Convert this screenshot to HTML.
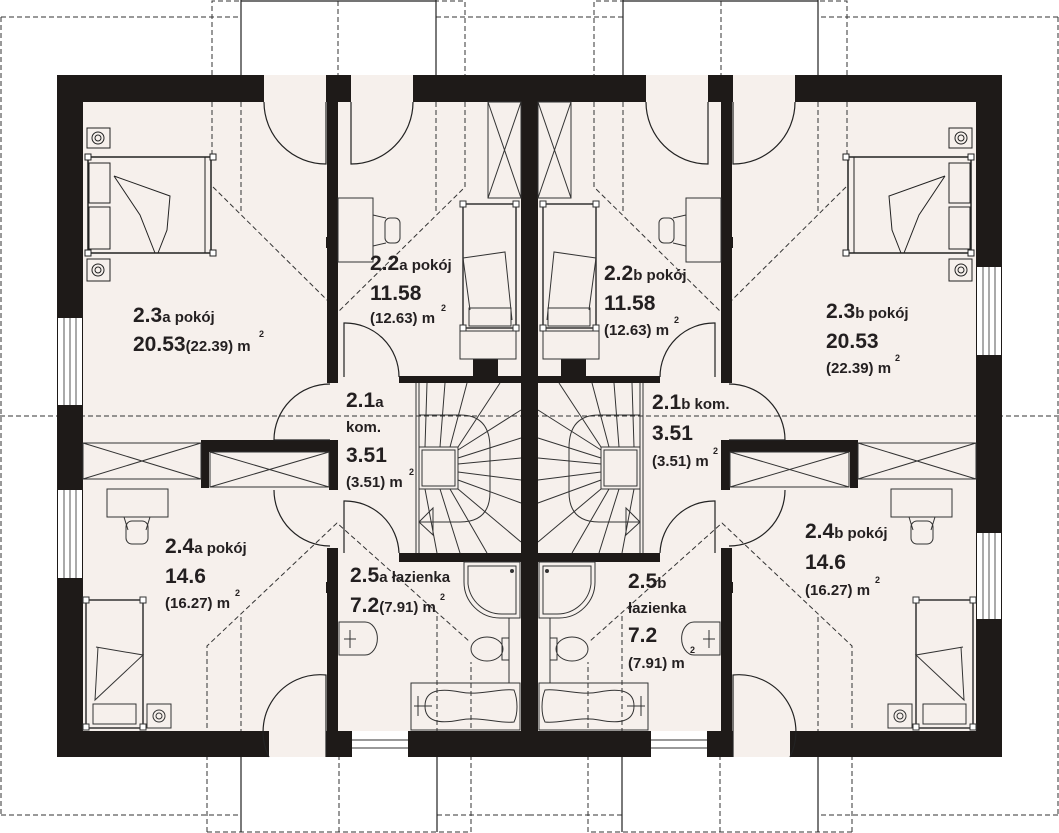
<!DOCTYPE html>
<html><head><meta charset="utf-8"><style>
html,body{margin:0;padding:0;background:#fff;}
svg{display:block;}
text{font-family:"Liberation Sans",sans-serif;font-weight:bold;fill:#231f20;}
.b{font-size:21px;}
.s{font-size:15px;}
.sup{font-size:9px;}
</style></head><body>
<svg width="1059" height="833" viewBox="0 0 1059 833" xmlns="http://www.w3.org/2000/svg">
<defs>
<g id="half">
  <rect x="83" y="102" width="447" height="629" fill="#f6f0ec"/>
  <rect x="264" y="75" width="62" height="27" fill="#f6f0ec"/>
  <rect x="351" y="75" width="62" height="27" fill="#f6f0ec"/>
  <rect x="269" y="731" width="57" height="26" fill="#f6f0ec"/>
  <g fill="none" stroke="#333" stroke-width="1" stroke-dasharray="5,3">
    <path d="M1,17 V815 M1,17 H241 M436,17 H530 M1,815 H241 M437,815 H530"/>
    <path d="M212,75 V1 H465 V75 M338,1 V75"/>
    <path d="M212,102 V157 M241,102 V213 M436,102 V213 M465,102 V187 L338,312 M213,187 L329,302"/>
    <path d="M207,832 V646 L337,523 L470,642 M207,832 H471 V662 M241,617 V731 M437,616 V731 M339,731 V832"/>
    <path d="M0,416 H530"/>
  </g>
  <g fill="none" stroke="#222" stroke-width="1.2">
    <path d="M241,0 V75 M436,0 V75 M241,1 H436"/>
    <path d="M241,757 V832 M437,757 V832"/>
  </g>
  <g fill="#1e1a18">
    <rect x="57" y="75" width="207" height="27"/>
    <rect x="326" y="75" width="25" height="27"/>
    <rect x="413" y="75" width="117" height="27"/>
    <rect x="57" y="75" width="26" height="682"/>
    <rect x="57" y="731" width="212" height="26"/>
    <rect x="326" y="731" width="26" height="26"/>
    <rect x="408" y="731" width="122" height="26"/>
    <rect x="521" y="75" width="9" height="682"/>
    <rect x="327" y="102" width="11" height="281"/>
    <rect x="326" y="237" width="4" height="11"/>
    <rect x="327" y="548" width="11" height="183"/>
    <rect x="326" y="582" width="4" height="11"/>
    <rect x="399" y="376" width="122" height="7"/>
    <rect x="473" y="359" width="25" height="18"/>
    <rect x="201" y="440" width="137" height="12"/>
    <rect x="329" y="440" width="9" height="50"/>
    <rect x="201" y="443" width="8" height="45"/>
    <rect x="399" y="553" width="122" height="9"/>
  </g>
  <rect x="352" y="731" width="56" height="26" fill="#fff"/>
  <path d="M352,740 H408 M352,748 H408" stroke="#333" stroke-width="1"/>
  <g fill="none" stroke="#222" stroke-width="1.2">
    <path d="M264,102 A62,62 0 0 0 326,164 V102"/>
    <path d="M413,102 A62,62 0 0 1 351,164 V102"/>
    <path d="M344,377 V323 A54,54 0 0 1 399,377"/>
    <path d="M330,384 A56,56 0 0 0 274,440 H330"/>
    <path d="M274,490 A56,56 0 0 0 330,546"/>
    <path d="M344,553 V501 A54,54 0 0 1 399,553"/>
    <path d="M269,757 A57,57 0 0 1 326,675 V757"/>
  </g>
  <g fill="none" stroke="#333" stroke-width="1">
    <rect x="83" y="443" width="118" height="36"/>
    <path d="M83,443 L201,479 M83,479 L201,443"/>
    <rect x="210" y="452" width="119" height="35"/>
    <path d="M210,452 L329,487 M210,487 L329,452"/>
    <rect x="488" y="102" width="33" height="96"/>
    <path d="M488,102 L521,198 M521,102 L488,198"/>
  </g>
  <g fill="none" stroke="#222" stroke-width="1">
    <rect x="87" y="128" width="23" height="20"/><circle cx="98" cy="138" r="6"/><circle cx="98" cy="138" r="3"/>
    <rect x="87" y="259" width="23" height="22"/><circle cx="98" cy="270" r="6"/><circle cx="98" cy="270" r="3"/>
    <rect x="88" y="157" width="123" height="96" stroke-width="1.5"/>
    <path d="M205,157 V253"/>
    <rect x="89" y="163" width="21" height="40"/><rect x="89" y="207" width="21" height="42"/>
    <path d="M114,176 L170,196 L167,230 L158,253 M114,176 L140,215 L155,253"/>
    <rect x="85" y="154" width="6" height="6" fill="#fff"/><rect x="210" y="154" width="6" height="6" fill="#fff"/>
    <rect x="85" y="250" width="6" height="6" fill="#fff"/><rect x="210" y="250" width="6" height="6" fill="#fff"/>
  </g>
  <g fill="none" stroke="#333" stroke-width="1">
    <rect x="338" y="198" width="35" height="64"/>
    <rect x="385" y="218" width="15" height="25" rx="5"/>
    <path d="M373,215 L386,218 M373,246 L386,243"/>
    <rect x="463" y="204" width="53" height="124" stroke-width="1.5"/>
    <rect x="469" y="308" width="42" height="18"/>
    <path d="M463,258 L505,252 L512,320 M463,258 L470,310"/>
    <rect x="460" y="201" width="6" height="6" fill="#fff"/><rect x="513" y="201" width="6" height="6" fill="#fff"/>
    <rect x="460" y="325" width="6" height="6" fill="#fff"/><rect x="513" y="325" width="6" height="6" fill="#fff"/>
    <rect x="460" y="331" width="56" height="28"/>
  </g>
  <g fill="none" stroke="#333" stroke-width="1">
    <rect x="107" y="489" width="61" height="28"/>
    <rect x="126" y="521" width="22" height="23" rx="6"/>
    <path d="M124,517 L128,530 M150,517 L146,530"/>
    <rect x="86" y="600" width="57" height="128" stroke-width="1.5"/>
    <rect x="93" y="704" width="43" height="20"/>
    <path d="M96,647 L143,655 L95,700 L98,647"/>
    <rect x="83" y="597" width="6" height="6" fill="#fff"/><rect x="140" y="597" width="6" height="6" fill="#fff"/>
    <rect x="83" y="724" width="6" height="6" fill="#fff"/><rect x="140" y="724" width="6" height="6" fill="#fff"/>
    <rect x="147" y="704" width="24" height="24"/><circle cx="159" cy="716" r="6"/><circle cx="159" cy="716" r="3"/>
  </g>
  <g fill="none" stroke="#333" stroke-width="1">
    <path d="M464,562 H520 V618 H500 A36,36 0 0 1 464,582 Z"/>
    <path d="M468,566 H516 V614 H502 A34,34 0 0 1 468,584 Z"/>
    <circle cx="512" cy="571" r="1.5" fill="#333"/>
    <path d="M509,618 V683"/>
    <ellipse cx="487" cy="649" rx="16" ry="12"/>
    <rect x="502" y="638" width="7" height="22"/>
    <rect x="411" y="683" width="109" height="47"/>
    <path d="M425,706 C425,690 440,688 460,692 C480,696 500,688 514,690 C518,700 518,714 514,722 C500,724 480,716 460,720 C440,724 425,722 425,706 Z"/>
    <path d="M414,706 H432 M418,696 V716"/>
    <path d="M365,622 A12,16 0 0 1 365,655 H339 V622 Z"/>
    <path d="M350,630 V648 M344,639 H356"/>
  </g>
  <g fill="none" stroke="#333" stroke-width="1">
    <path d="M416,383 V553 M419,383 V553"/>
    <rect x="419" y="447" width="39" height="42"/>
    <rect x="422" y="450" width="33" height="36"/>
    <path d="M419,415 H460 Q490,415 490,448 V492 Q490,522 460,522 H419"/>
    <path d="M427,383 L425,447 M445,383 L440,447 M467,383 L450,447 M500,383 L458,447"/>
    <path d="M458,450 L521,410 M458,458 L521,438 M458,464 L521,458 M458,472 L521,480 M458,480 L521,503 M458,489 L521,542"/>
    <path d="M425,489 L437,553 M440,489 L460,553 M450,489 L487,553"/>
    <path d="M433,508 L419,522 L433,535 Z"/>
  </g>
</g>
</defs>
<use href="#half"/>
<use href="#half" transform="matrix(-1 0 0 1 1059 0)"/>
<g>
  <rect x="58" y="318" width="24" height="87" fill="#fff"/>
  <path d="M64,318 V405 M70,318 V405 M76,318 V405" stroke="#555"/>
  <rect x="58" y="490" width="24" height="88" fill="#fff"/>
  <path d="M64,490 V578 M70,490 V578 M76,490 V578" stroke="#555"/>
  <rect x="977" y="267" width="24" height="88" fill="#fff"/>
  <path d="M983,267 V355 M989,267 V355 M995,267 V355" stroke="#555"/>
  <rect x="977" y="533" width="24" height="86" fill="#fff"/>
  <path d="M983,533 V619 M989,533 V619 M995,533 V619" stroke="#555"/>
</g>
<text x="133" y="322"><tspan class="b">2.3</tspan><tspan class="s">a pokój</tspan></text>
<text x="133" y="351"><tspan class="b">20.53</tspan><tspan class="s">(22.39) m</tspan></text>
<text x="259" y="337" class="sup">2</text>
<text x="370" y="270"><tspan class="b">2.2</tspan><tspan class="s">a pokój</tspan></text>
<text x="370" y="300" class="b">11.58</text>
<text x="370" y="323" class="s">(12.63) m</text>
<text x="441" y="311" class="sup">2</text>
<text x="346" y="407"><tspan class="b">2.1</tspan><tspan class="s">a</tspan></text>
<text x="346" y="432" class="s">kom.</text>
<text x="346" y="462" class="b">3.51</text>
<text x="346" y="487" class="s">(3.51) m</text>
<text x="409" y="475" class="sup">2</text>
<text x="165" y="553"><tspan class="b">2.4</tspan><tspan class="s">a pokój</tspan></text>
<text x="165" y="583" class="b">14.6</text>
<text x="165" y="608" class="s">(16.27) m</text>
<text x="235" y="596" class="sup">2</text>
<text x="350" y="582"><tspan class="b">2.5</tspan><tspan class="s">a łazienka</tspan></text>
<text x="350" y="612"><tspan class="b">7.2</tspan><tspan class="s">(7.91) m</tspan></text>
<text x="440" y="600" class="sup">2</text>

<text x="604" y="280"><tspan class="b">2.2</tspan><tspan class="s">b pokój</tspan></text>
<text x="604" y="310" class="b">11.58</text>
<text x="604" y="335" class="s">(12.63) m</text>
<text x="674" y="323" class="sup">2</text>
<text x="826" y="318"><tspan class="b">2.3</tspan><tspan class="s">b pokój</tspan></text>
<text x="826" y="348" class="b">20.53</text>
<text x="826" y="373" class="s">(22.39) m</text>
<text x="895" y="361" class="sup">2</text>
<text x="652" y="409"><tspan class="b">2.1</tspan><tspan class="s">b kom.</tspan></text>
<text x="652" y="440" class="b">3.51</text>
<text x="652" y="466" class="s">(3.51) m</text>
<text x="713" y="454" class="sup">2</text>
<text x="805" y="538"><tspan class="b">2.4</tspan><tspan class="s">b pokój</tspan></text>
<text x="805" y="569" class="b">14.6</text>
<text x="805" y="595" class="s">(16.27) m</text>
<text x="875" y="583" class="sup">2</text>
<text x="628" y="588"><tspan class="b">2.5</tspan><tspan class="s">b</tspan></text>
<text x="628" y="613" class="s">łazienka</text>
<text x="628" y="642" class="b">7.2</text>
<text x="628" y="668" class="s">(7.91) m</text>
<text x="690" y="653" class="sup">2</text>
</svg>
</body></html>
